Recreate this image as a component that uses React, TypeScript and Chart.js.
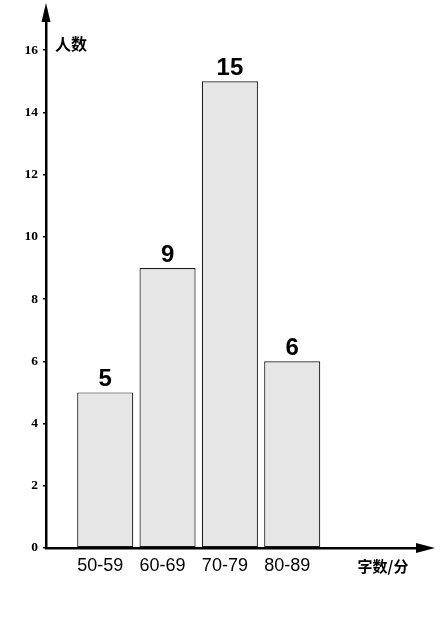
import React, { useEffect, useRef } from "react";
import { Chart, registerables } from "chart.js";

Chart.register(...registerables);

const categories = ["50-59", "60-69", "70-79", "80-89"];
const classLower = [50, 60, 70, 80];
const classUpper = [59, 69, 79, 89];
const counts = [5, 9, 15, 6];
const yTickValues = [0, 2, 4, 6, 8, 10, 12, 14, 16];
const yTitle = "人数";
const xTitle = "字数/分";

const midpoints = classLower.map((lo, i) => (lo + classUpper[i]) / 2);

const decorPlugin = {
  id: "decor",
  afterDraw(chart: any) {
    const ctx = chart.ctx as CanvasRenderingContext2D;
    const area = chart.chartArea;
    const yScale = chart.scales.y;
    ctx.save();
    // arrowheads
    ctx.fillStyle = "#000";
    const ax = area.left;
    ctx.beginPath();
    ctx.moveTo(ax, area.top - 16);
    ctx.lineTo(ax - 4.5, area.top + 3);
    ctx.lineTo(ax + 4.5, area.top + 3);
    ctx.closePath();
    ctx.fill();
    const ay = area.bottom;
    ctx.beginPath();
    ctx.moveTo(area.right + 15, ay);
    ctx.lineTo(area.right - 4, ay - 5);
    ctx.lineTo(area.right - 4, ay + 5);
    ctx.closePath();
    ctx.fill();

    // value labels
    const meta = chart.getDatasetMeta(0);
    ctx.font = "bold 24px 'Liberation Sans', Arial, sans-serif";
    ctx.textAlign = "center";
    ctx.textBaseline = "alphabetic";
    meta.data.forEach((bar: any, i: number) => {
      ctx.fillText(String(counts[i]), bar.x, bar.y - 6);
    });

    // axis titles
    ctx.font = "bold 16px 'Noto Sans CJK SC', sans-serif";
    ctx.textAlign = "left";
    ctx.textBaseline = "middle";
    ctx.fillText(yTitle, area.left + 9, yScale.getPixelForValue(16) - 6);
    ctx.font = "bold 15px 'Noto Sans CJK SC', sans-serif";
    ctx.textAlign = "center";
    ctx.fillText(xTitle, area.right - 37, area.bottom + 18);
    ctx.restore();
  },
};

export default function App() {
  const ref = useRef<HTMLCanvasElement>(null);
  useEffect(() => {
    if (!ref.current) return;
    const chart = new Chart(ref.current, {
      type: "bar",
      data: {
        datasets: [
          {
            data: counts.map((c, i) => ({ x: midpoints[i], y: c })),
            backgroundColor: "#e6e6e6",
            borderColor: "#1a1a1a",
            borderWidth: 1.2,
            borderSkipped: false,
            barPercentage: 1,
            categoryPercentage: 0.9,
          },
        ],
      },
      options: {
        animation: false,
        responsive: false,
        layout: { padding: { top: 19, right: 20, left: 0, bottom: 0 } },
        plugins: { legend: { display: false }, tooltip: { enabled: false } },
        scales: {
          x: {
            type: "linear",
            min: 45,
            max: 105,
            offset: false,
            z: 1,
            afterBuildTicks: (scale: any) => {
              scale.ticks = midpoints.map((v) => ({ value: v }));
            },
            afterFit: (scale: any) => {
              scale.height = 81;
            },
            grid: { display: false, drawTicks: false },
            border: { display: true, color: "#000", width: 2.5 },
            ticks: {
              autoSkip: false,
              maxRotation: 0,
              labelOffset: -5,
              padding: 7,
              color: "#000",
              font: { family: "'Liberation Sans', Arial, sans-serif", size: 18 },
              callback: (_v: any, i: number) => categories[i],
            },
          },
          y: {
            type: "linear",
            min: 0,
            max: 17,
            z: 1,
            afterBuildTicks: (scale: any) => {
              scale.ticks = yTickValues.map((v) => ({ value: v }));
            },
            afterFit: (scale: any) => {
              scale.width = 46;
            },
            grid: {
              drawOnChartArea: false,
              drawTicks: true,
              tickLength: 3,
              color: "#000",
              lineWidth: 1.5,
            },
            border: { display: true, color: "#000", width: 2.5 },
            ticks: {
              padding: 5,
              color: "#000",
              font: { family: "'Liberation Serif', 'Times New Roman', serif", size: 13.5, weight: "bold" },
            },
          },
        },
      },
      plugins: [decorPlugin],
    } as any);
    return () => chart.destroy();
  }, []);

  return (
    <div style={{ position: "fixed", left: 0, top: 0, width: 440, height: 629, background: "#fff" }}>
      <canvas ref={ref} width={440} height={629} style={{ display: "block" }} />
    </div>
  );
}
